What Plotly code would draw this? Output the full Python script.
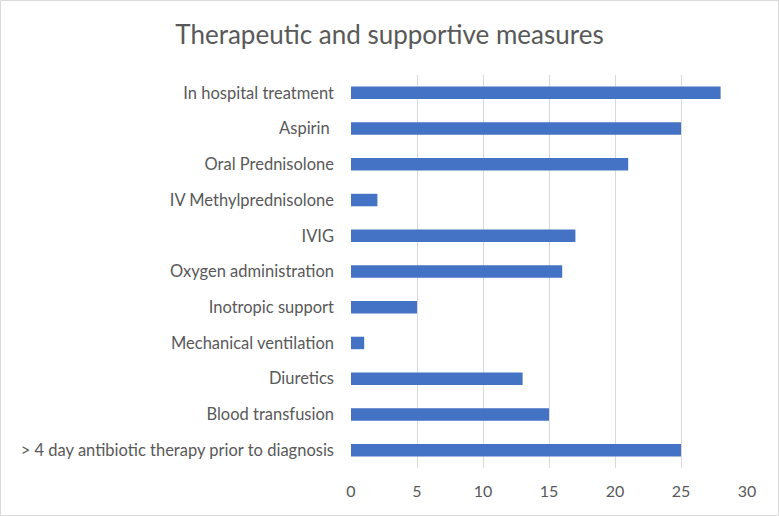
import plotly.graph_objects as go

categories = [
    "In hospital treatment",
    "Aspirin ",
    "Oral Prednisolone",
    "IV Methylprednisolone",
    "IVIG",
    "Oxygen administration",
    "Inotropic support",
    "Mechanical ventilation",
    "Diuretics",
    "Blood transfusion",
    "> 4 day antibiotic therapy prior to diagnosis",
]
values = [28, 25, 21, 2, 17, 16, 5, 1, 13, 15, 25]
x_ticks = [0, 5, 10, 15, 20, 25, 30]

FONT = "Lato, 'Open Sans', sans-serif"
TXT = "#595959"

fig = go.Figure(go.Bar(
    y=categories, x=values, orientation="h",
    marker=dict(color="#4472C4", line=dict(width=0)),
    width=0.35,
))

fig.update_layout(
    width=779, height=516,
    margin=dict(l=351, r=32, t=75, b=48),
    paper_bgcolor="white", plot_bgcolor="white",
    showlegend=False,
    title=dict(text="Therapeutic and supportive measures", x=0.5, xanchor="center",
               y=1 - 35/516, yanchor="middle",
               font=dict(family=FONT, size=26, color=TXT)),
    font=dict(family=FONT, color=TXT),
    xaxis=dict(range=[0, 30], tickvals=x_ticks, showgrid=True, gridcolor="#d9d9d9",
               gridwidth=1.3, zeroline=False, showline=False,
               tickfont=dict(size=16, color=TXT), ticks="", ticklabelstandoff=12),
    yaxis=dict(showgrid=False, zeroline=False,
               showline=False, ticks="", tickfont=dict(size=16.5, color=TXT),
               ticklabelstandoff=16),
    shapes=[dict(type="rect", xref="paper", yref="paper", x0=-350.5/396, x1=1+31.5/396,
                 y0=-47.5/393, y1=1+74.5/393, line=dict(color="#d9d9d9", width=1))],
)
fig.update_yaxes(range=[10.5, -0.5], autorange=False)

fig.write_html("out.html", config={"displayModeBar": False},
               post_script="document.body.style.margin='0';")
